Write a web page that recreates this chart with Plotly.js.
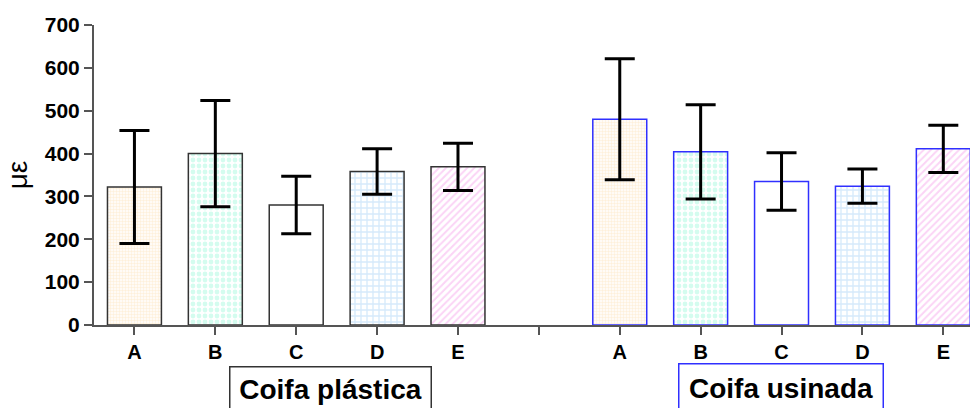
<!DOCTYPE html>
<html>
<head>
<meta charset="utf-8">
<script src="https://cdn.plot.ly/plotly-3.0.1.min.js"></script>
<style>html,body{margin:0;padding:0;background:#fff;}#chart{width:970px;height:408px;}</style>
</head>
<body>
<div id="chart"></div>
<script>
// ---- data ----
var categories = ['A', 'B', 'C', 'D', 'E'];
var groupNames = ['Coifa plástica', 'Coifa usinada'];
var plasticaMean = [322, 400, 280, 358, 369];
var plasticaErr  = [132, 124, 67, 53, 55];
var usinadaMean  = [480, 404, 335, 324, 411];
var usinadaErr   = [141, 110, 67, 40, 55];
var yTicks = [0, 100, 200, 300, 400, 500, 600, 700];

// ---- styles ----
var patShape = ['.', '.', '', '+', '/'];
var patFg = ['#ffffff', '#ffffff', '#ffffff', '#ffffff', '#ffffff'];
var patBg = ['#fef0da', '#d4fcef', '#ffffff', '#d6eafb', '#fbd4f6'];
var patSize = [3, 6, 6, 6, 5];
var patSolid = [0.5, 0.5, 0.3, 0.4, 0.4];

var x1 = categories.map(function (c, i) { return i; });
var x2 = categories.map(function (c, i) { return i + categories.length + 1; });
var tickvals = [], ticktext = [];
for (var i = 0; i < categories.length * 2 + 1; i++) {
  tickvals.push(i);
  if (i < categories.length) ticktext.push(categories[i]);
  else if (i === categories.length) ticktext.push('');
  else ticktext.push(categories[i - categories.length - 1]);
}

function barTrace(xs, ys, errs, name, lineColor) {
  return {
    type: 'bar', x: xs, y: ys, name: name, width: 0.667,
    marker: {
      color: patBg,
      line: {color: lineColor, width: 1.5},
      pattern: {shape: patShape, fgcolor: patFg, bgcolor: patBg, size: patSize, solidity: patSolid, fillmode: 'replace'}
    },
    error_y: {type: 'data', array: errs, visible: true, color: '#000000', thickness: 3, width: 15},
    showlegend: false, hoverinfo: 'skip'
  };
}

var data = [
  barTrace(x1, plasticaMean, plasticaErr, groupNames[0], '#333333'),
  barTrace(x2, usinadaMean, usinadaErr, groupNames[1], '#3030ff')
];

var plotW = 876;
function px(xp) { return (xp - 94) / plotW; }
function py(yp) { return (325 - yp) / 300; }
var FAM = 'Liberation Sans';

var layout = {
  width: 970, height: 408,
  margin: {l: 94, r: 0, t: 25, b: 83, pad: 0},
  paper_bgcolor: '#ffffff', plot_bgcolor: '#ffffff',
  barmode: 'overlay',
  font: {family: FAM, color: '#000000'},
  xaxis: {
    range: [-0.5, 10.33], tickvals: tickvals, ticktext: ticktext,
    showline: true, linecolor: '#555555', linewidth: 2,
    ticks: 'outside', ticklen: 8, tickwidth: 2, tickcolor: '#555555',
    showgrid: false, zeroline: false, fixedrange: true,
    tickfont: {size: 20, weight: 'bold', family: FAM, color: '#000'}
  },
  yaxis: {
    range: [0, 700], tickvals: yTicks,
    showline: true, linecolor: '#555555', linewidth: 2,
    ticks: 'outside', ticklen: 8, tickwidth: 2, tickcolor: '#555555',
    showgrid: false, zeroline: false, fixedrange: true,
    tickfont: {size: 21, weight: 'bold', family: FAM, color: '#000'},
    title: {text: 'με', font: {size: 28, family: FAM}, standoff: 9}
  },
  annotations: [
    {xref: 'paper', yref: 'paper', x: px(330), y: py(366), xanchor: 'center', yanchor: 'top',
     text: '<b>' + groupNames[0] + '</b>', showarrow: false, width: 198, height: 42,
     font: {size: 28, family: FAM, color: '#000'},
     bordercolor: '#333333', borderwidth: 1.5, borderpad: 1, bgcolor: '#ffffff'},
    {xref: 'paper', yref: 'paper', x: px(780.5), y: py(363), xanchor: 'center', yanchor: 'top',
     text: '<b>' + groupNames[1] + '</b>', showarrow: false, width: 201, height: 45,
     font: {size: 28, family: FAM, color: '#000'},
     bordercolor: '#3030ff', borderwidth: 1.5, borderpad: 1, bgcolor: '#ffffff'}
  ]
};

Plotly.newPlot('chart', data, layout, {displayModeBar: false, staticPlot: true});
</script>
</body>
</html>
